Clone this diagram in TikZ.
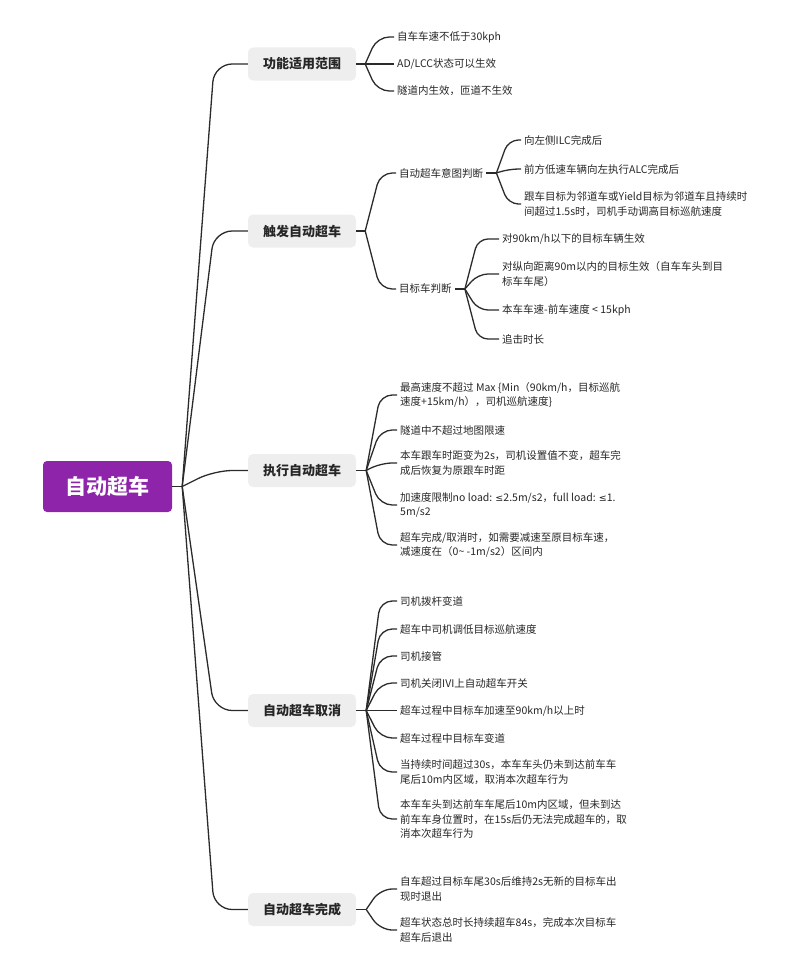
\documentclass[tikz,border=0pt]{standalone}
\usepackage{fontspec}
\setmainfont{Noto Sans CJK SC}
\newfontfamily\symfont{DejaVu Sans}
\newcommand{\lesym}{{\symfont\fontsize{9.5}{14.5}\selectfont ≤}}
\definecolor{rootpurple}{HTML}{8E24AA}
\definecolor{topicgrey}{HTML}{EEEEEE}
\definecolor{linkgrey}{HTML}{2B2B2B}
\tikzset{
  rootnode/.style={fill=rootpurple, rounded corners=4pt, minimum width=129pt, minimum height=51pt, text=white, font=\bfseries\fontsize{21}{24}\selectfont},
  topic/.style={fill=topicgrey, rounded corners=5pt, minimum width=108pt, minimum height=33pt, text=black!85, font=\bfseries\fontsize{13}{15}\selectfont},
  leaf/.style={anchor=west, align=left, inner xsep=3pt, inner ysep=1pt, text=black!85, font=\fontsize{10.5}{14.5}\selectfont},
  link/.style={draw=linkgrey, line width=1.3pt, rounded corners=12pt},
}
\begin{document}
\begin{tikzpicture}[x=1pt,y=-1pt]
\useasboundingbox (0,0) rectangle (799,966);
% root and main topics
\node[rootnode] (root) at (107.5,486.5) {自动超车};
\node[topic] (scope) at (302,64) {功能适用范围};
\node[topic] (trigger) at (302,231) {触发自动超车};
\node[topic] (exec) at (302,470.5) {执行自动超车};
\node[topic] (cancel) at (302,710.5) {自动超车取消};
\node[topic] (finish) at (302,909.5) {自动超车完成};
\draw[link] (root.east) -- ++(10,0) coordinate (rj);
\foreach \t in {scope,trigger,exec,cancel,finish}
  \draw[link,rounded corners=18pt] (rj) -- ([xshift=32pt]rj |- \t.west) -- (\t.west);

% scope
\node[leaf] (s1) at (394,37) {自车车速不低于30kph};
\node[leaf] (s2) at (394,64) {AD/LCC状态可以生效};
\node[leaf] (s3) at (394,91) {隧道内生效，匝道不生效};
\draw[link] (scope.east) -- ++(9,0) coordinate (sj);
\foreach \c in {s1,s2,s3}
  \draw[link] (sj) -- ([xshift=12pt]sj |- \c.west) -- (\c.west);

% trigger
\node[leaf] (intent) at (396,173) {自动超车意图判断};
\node[leaf] (target) at (396,289) {目标车判断};
\draw[link] (trigger.east) -- ++(9,0) coordinate (tj);
\foreach \c in {intent,target}
  \draw[link] (tj) -- ([xshift=15pt]tj |- \c.west) -- (\c.west);

\node[leaf] (i1) at (521,140) {向左侧ILC完成后};
\node[leaf] (i2) at (521,169) {前方低速车辆向左执行ALC完成后};
\node[leaf] (i3) at (521,204) {跟车目标为邻道车或Yield目标为邻道车且持续时\\间超过1.5s时，司机手动调高目标巡航速度};
\draw[link] (intent.east) -- ++(10,0) coordinate (ij);
\foreach \c in {i1,i2,i3}
  \draw[link,rounded corners=10pt] (ij) -- ([xshift=12pt]ij |- \c.west) -- (\c.west);

\node[leaf] (g1) at (499,239) {对90km/h以下的目标车辆生效};
\node[leaf] (g2) at (499,274) {对纵向距离90m以内的目标生效（自车车头到目\\标车车尾）};
\node[leaf] (g3) at (499,310) {本车车速-前车速度 < 15kph};
\node[leaf] (g4) at (499,339) {追击时长};
\draw[link] (target.east) -- ++(10,0) coordinate (gj);
\foreach \c in {g1,g2,g3,g4}
  \draw[link,rounded corners=10pt] (gj) -- ([xshift=13pt]gj |- \c.west) -- (\c.west);

% exec
\node[leaf] (e1) at (397,395) {最高速度不超过 Max \{Min（90km/h，目标巡航\\速度+15km/h），司机巡航速度\}};
\node[leaf] (e2) at (397,430) {隧道中不超过地图限速};
\node[leaf] (e3) at (397,463) {本车跟车时距变为2s，司机设置值不变，超车完\\成后恢复为原跟车时距};
\node[leaf] (e4) at (397,505) {加速度限制no load: \lesym2.5m/s2，full load: \lesym1.\\5m/s2};
\node[leaf] (e5) at (397,545) {超车完成/取消时，如需要减速至原目标车速，\\减速度在（0\textasciitilde{} -1m/s2）区间内};
\draw[link] (exec.east) -- ++(10,0) coordinate (ej);
\foreach \c in {e1,e2,e3,e4,e5}
  \draw[link] (ej) -- ([xshift=14pt]ej |- \c.west) -- (\c.west);

% cancel
\node[leaf] (c1) at (397,601) {司机拨杆变道};
\node[leaf] (c2) at (397,629) {超车中司机调低目标巡航速度};
\node[leaf] (c3) at (397,656) {司机接管};
\node[leaf] (c4) at (397,683) {司机关闭IVI上自动超车开关};
\node[leaf] (c5) at (397,710.5) {超车过程中目标车加速至90km/h以上时};
\node[leaf] (c6) at (397,738) {超车过程中目标车变道};
\node[leaf] (c7) at (397,772) {当持续时间超过30s，本车车头仍未到达前车车\\尾后10m内区域，取消本次超车行为};
\node[leaf] (c8) at (397,819) {本车车头到达前车车尾后10m内区域，但未到达\\前车车身位置时，在15s后仍无法完成超车的，取\\消本次超车行为};
\draw[link] (cancel.east) -- ++(10,0) coordinate (cj);
\foreach \c in {c1,c2,c3,c4,c5,c6,c7,c8}
  \draw[link] (cj) -- ([xshift=14pt]cj |- \c.west) -- (\c.west);

% finish
\node[leaf] (f1) at (397,889) {自车超过目标车尾30s后维持2s无新的目标车出\\现时退出};
\node[leaf] (f2) at (397,930) {超车状态总时长持续超车84s，完成本次目标车\\超车后退出};
\draw[link] (finish.east) -- ++(10,0) coordinate (fj);
\foreach \c in {f1,f2}
  \draw[link] (fj) -- ([xshift=14pt]fj |- \c.west) -- (\c.west);
\end{tikzpicture}
\end{document}
